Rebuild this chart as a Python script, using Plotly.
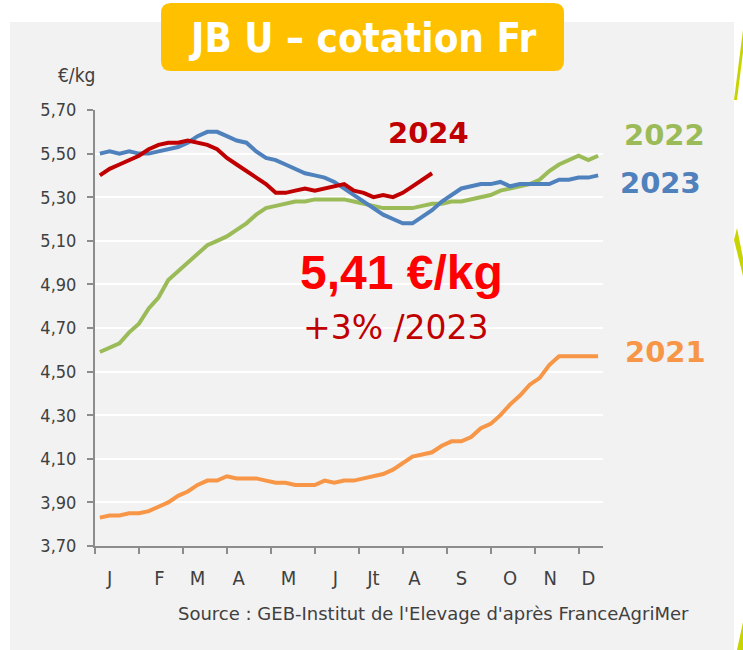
import plotly.graph_objects as go

# ---------------- data ----------------
MONTHS = ["J", "F", "M", "A", "M", "J", "Jt", "A", "S", "O", "N", "D"]
MONTH_LABEL_POS = [1.0, 6.1, 10.0, 14.2, 19.3, 24.1, 28.0, 32.2, 37.0, 42.0, 46.1, 50.0]
MONTH_TICKS = [-0.5, 4.0, 8.5, 13.0, 17.5, 22.0, 26.5, 31.0, 35.5, 40.0, 44.5, 49.0]
Y_TICKS = [3.70, 3.90, 4.10, 4.30, 4.50, 4.70, 4.90, 5.10, 5.30, 5.50, 5.70]

WEEKS = list(range(52))

Y2021 = [3.83, 3.84, 3.84, 3.85, 3.85, 3.86, 3.88, 3.90, 3.93, 3.95, 3.98, 4.00,
         4.00, 4.02, 4.01, 4.01, 4.01, 4.00, 3.99, 3.99, 3.98, 3.98, 3.98, 4.00,
         3.99, 4.00, 4.00, 4.01, 4.02, 4.03, 4.05, 4.08, 4.11, 4.12, 4.13, 4.16,
         4.18, 4.18, 4.20, 4.24, 4.26, 4.30, 4.35, 4.39, 4.44, 4.47, 4.53, 4.57,
         4.57, 4.57, 4.57, 4.57]

Y2022 = [4.59, 4.61, 4.63, 4.68, 4.72, 4.79, 4.84, 4.92, 4.96, 5.00, 5.04, 5.08,
         5.10, 5.12, 5.15, 5.18, 5.22, 5.25, 5.26, 5.27, 5.28, 5.28, 5.29, 5.29,
         5.29, 5.29, 5.28, 5.27, 5.26, 5.25, 5.25, 5.25, 5.25, 5.26, 5.27, 5.27,
         5.28, 5.28, 5.29, 5.30, 5.31, 5.33, 5.34, 5.35, 5.36, 5.38, 5.42, 5.45,
         5.47, 5.49, 5.47, 5.49]

Y2023 = [5.50, 5.51, 5.50, 5.51, 5.50, 5.50, 5.51, 5.52, 5.53, 5.55, 5.58, 5.60,
         5.60, 5.58, 5.56, 5.55, 5.51, 5.48, 5.47, 5.45, 5.43, 5.41, 5.40, 5.39,
         5.37, 5.34, 5.31, 5.28, 5.25, 5.22, 5.20, 5.18, 5.18, 5.21, 5.24, 5.28,
         5.31, 5.34, 5.35, 5.36, 5.36, 5.37, 5.35, 5.36, 5.36, 5.36, 5.36, 5.38,
         5.38, 5.39, 5.39, 5.40]

Y2024 = [5.40, 5.43, 5.45, 5.47, 5.49, 5.52, 5.54, 5.55, 5.55, 5.56, 5.55, 5.54,
         5.52, 5.48, 5.45, 5.42, 5.39, 5.36, 5.32, 5.32, 5.33, 5.34, 5.33, 5.34,
         5.35, 5.36, 5.33, 5.32, 5.30, 5.31, 5.30, 5.32, 5.35, 5.38, 5.41]

SERIES = [
    ("2021", Y2021, "#F79646"),
    ("2022", Y2022, "#9BBB59"),
    ("2023", Y2023, "#4F81BD"),
    ("2024", Y2024, "#C00000"),
]

# ---------------- layout helpers ----------------
W, H = 743, 650
L, R, T, B = 95, 140, 110, 104
PW, PH = W - L - R, H - T - B


def px(x, y):
    """pixel position -> paper coordinates"""
    return (x - L) / PW, (H - B - y) / PH


def rounded_rect_path(x0, y0, x1, y1, r):
    ax0, ay0 = px(x0, y0)
    ax1, ay1 = px(x1, y1)
    rx, ry = r / PW, r / PH
    return (f"M {ax0+rx},{ay0} L {ax1-rx},{ay0} Q {ax1},{ay0} {ax1},{ay0-ry} "
            f"L {ax1},{ay1+ry} Q {ax1},{ay1} {ax1-rx},{ay1} "
            f"L {ax0+rx},{ay1} Q {ax0},{ay1} {ax0},{ay1+ry} "
            f"L {ax0},{ay0-ry} Q {ax0},{ay0} {ax0+rx},{ay0} Z")


AXFONT = "DejaVu Sans Condensed, Liberation Sans Narrow, Liberation Sans, sans-serif"
WIDEFONT = "DejaVu Sans, Liberation Sans, sans-serif"
TXT = "#404040"

fig = go.Figure()
for name, vals, col in SERIES:
    fig.add_trace(go.Scatter(
        x=WEEKS[:len(vals)], y=vals, mode="lines", name=name,
        line=dict(color=col, width=4), showlegend=False, hoverinfo="x+y"))

# invisible trace on xaxis2 so that the month-label axis is drawn
fig.add_trace(go.Scatter(x=[WEEKS[0]], y=[Y_TICKS[0]], xaxis="x2", mode="markers",
                         marker=dict(opacity=0), showlegend=False, hoverinfo="skip"))

XR = [-0.5, 51.5]
fig.update_layout(
    width=W, height=H,
    margin=dict(l=L, r=R, t=T, b=B),
    paper_bgcolor="white",
    plot_bgcolor="#F2F2F2",
    separators=", ",
    xaxis=dict(range=XR, tickvals=MONTH_TICKS, showticklabels=False,
               ticks="outside", ticklen=6, tickwidth=2, tickcolor="#8C8C8C",
               showline=True, linecolor="#8C8C8C", linewidth=2,
               showgrid=False, zeroline=False, fixedrange=True),
    xaxis2=dict(range=XR, overlaying="x", side="bottom", tickvals=MONTH_LABEL_POS,
                ticktext=MONTHS, ticks="outside", ticklen=14, tickcolor="rgba(0,0,0,0)",
                showline=False, showgrid=False, zeroline=False,
                tickfont=dict(family=AXFONT, size=20, color=TXT), fixedrange=True),
    yaxis=dict(range=[3.70, 5.70], tickvals=Y_TICKS, tickformat=".2f",
               ticks="outside", ticklen=6, tickwidth=2, tickcolor="#8C8C8C",
               showline=True, linecolor="#8C8C8C", linewidth=2,
               showgrid=True, gridcolor="white", gridwidth=2, zeroline=False,
               tickfont=dict(family=AXFONT, size=18, color=TXT),
               ticklabelstandoff=7, fixedrange=True),
)

shapes = []
# grey panel
p0 = px(10, 22)
p1 = px(734, 660)
shapes.append(dict(type="rect", xref="paper", yref="paper", x0=p0[0], y0=p1[1],
                   x1=p1[0], y1=p0[1], fillcolor="#F2F2F2", line=dict(width=0),
                   layer="below"))
# title box
shapes.append(dict(type="path", xref="paper", yref="paper",
                   path=rounded_rect_path(161, 3, 564, 71, 10),
                   fillcolor="#FFC000", line=dict(width=0), layer="above"))
# lime decorations at right edge
for pts in ([(743, 30), (743, 52), (737, 100), (734, 100)],
            [(737, 228), (743, 258), (743, 276), (734, 240)],
            [(743, 622), (743, 650), (737, 650)]):
    path = "M " + " L ".join(f"{px(a, b)[0]},{px(a, b)[1]}" for a, b in pts) + " Z"
    shapes.append(dict(type="path", xref="paper", yref="paper", path=path,
                       fillcolor="#C8D400", line=dict(width=0), layer="above"))
fig.update_layout(shapes=shapes)


def ann(text, x, y, size, color, bold=False, family=AXFONT, xanchor="center"):
    ax, ay = px(x, y)
    fig.add_annotation(text=f"<b>{text}</b>" if bold else text, x=ax, y=ay,
                       xref="paper", yref="paper", showarrow=False,
                       xanchor=xanchor, yanchor="middle",
                       font=dict(family=family, size=size, color=color))


ann("JB U – cotation Fr", 362, 38, 40, "white", bold=True, family=AXFONT)
ann("€/kg", 76, 75, 19, TXT)
ann("2024", 428, 133, 29, "#C00000", bold=True, family=WIDEFONT)
ann("2022", 664, 135, 29, "#9BBB59", bold=True, family=WIDEFONT)
ann("2023", 660, 183, 29, "#4F81BD", bold=True, family=WIDEFONT)
ann("2021", 665, 352, 29, "#F79646", bold=True, family=WIDEFONT)
ann("5,41 €/kg", 401, 272, 48, "#FF0000", bold=True,
    family="Liberation Sans, Arial, sans-serif")
ann("+3% /2023", 396, 327, 33, "#C00000", family=WIDEFONT)
ann("Source : GEB-Institut de l'Elevage d'après FranceAgriMer", 433, 613, 18, TXT,
    family=WIDEFONT)

fig.write_html("out.html", config={"displayModeBar": False},
               post_script="document.body.style.margin='0';document.body.style.overflow='hidden';")
